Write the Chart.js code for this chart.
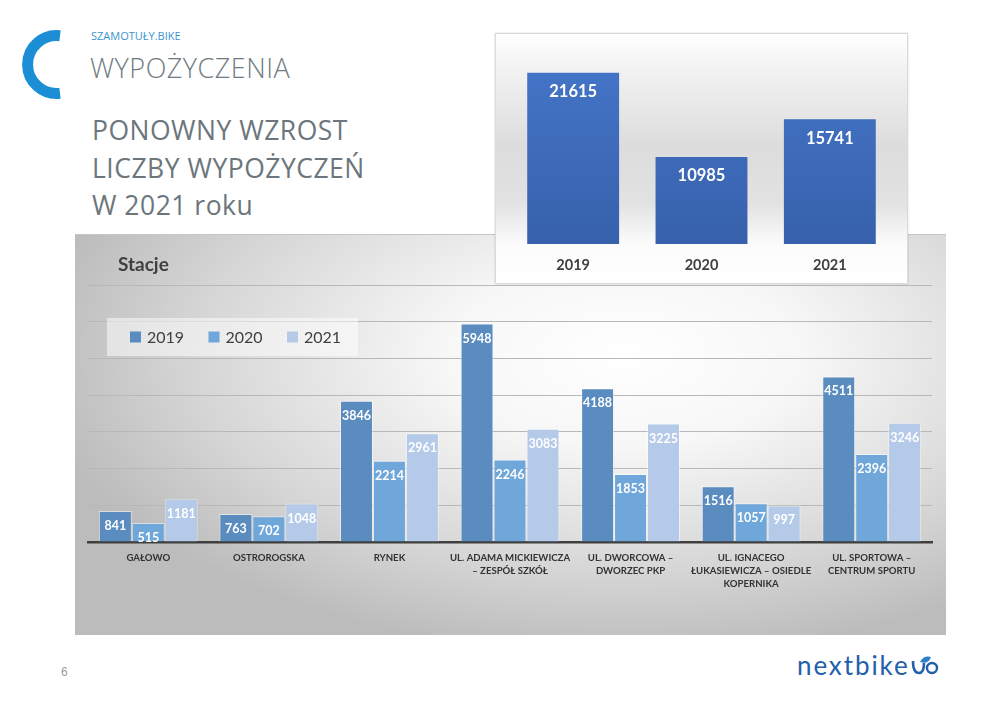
<!DOCTYPE html>
<html lang="pl">
<head>
<meta charset="utf-8">
<title>Wypożyczenia</title>
<script src="https://cdn.jsdelivr.net/npm/chart.js@4/dist/chart.umd.min.js"></script>
<style>
  body { margin: 0; background: #fff; font-family: 'Open Sans', sans-serif; }
  #page { position: relative; width: 995px; height: 707px; overflow: hidden; }
  .txt { position: absolute; white-space: nowrap; }
  #brand { left: 91px; top: 29px; font-size: 11px; line-height: 14px; color: #3b93d0; }
  #section { left: 90px; top: 52px; font-size: 27px; line-height: 32px; color: #707b81; font-weight: 300; letter-spacing: 0.5px; }
  #headline { left: 92px; top: 112px; font-size: 26.5px; line-height: 37.5px; color: #6c767c; letter-spacing: 0.5px; }
  #pagenr { left: 61px; top: 664px; font-size: 12px; line-height: 16px; color: #9a9a9a; font-family: 'Liberation Sans Narrow', 'Liberation Sans', sans-serif; }
  #logo { left: 797px; top: 649px; font-size: 26px; line-height: 32px; color: #2260aa; font-family: 'Lato', sans-serif; letter-spacing: 1.9px; }

  #stations {
    position: absolute; left: 75px; top: 234px; width: 871px; height: 401px;
    background: radial-gradient(ellipse 68% 75% at 63% 30%, #ffffff 0%, #f7f7f7 30%, #d6d6d6 72%, #bcbcbc 100%);
    border-top: 1px solid #c6c6c6; box-sizing: border-box;
  }
  #stationsTitle { left: 118px; top: 251px; font-family: 'Lato', sans-serif; font-weight: bold; font-size: 19px; line-height: 26px; color: #404040; }

  #yearsBox {
    position: absolute; left: 495px; top: 33px; width: 413px; height: 251px;
    background: linear-gradient(to bottom, #ffffff 0%, #f4f4f4 12%, #dcdcdc 45%, #e2e2e2 68%, #fbfbfb 84%, #ffffff 100%);
    border: 1px solid #dadada; box-sizing: border-box; box-shadow: 0 0 2px rgba(0,0,0,0.15);
  }
  canvas { position: absolute; left: 0; top: 0; }
</style>
</head>
<body>
<div id="page">
  <svg width="100" height="110" style="position:absolute;left:0;top:0">
    <path d="M 60 35.7 A 29 29 0 1 0 60 93.3" fill="none" stroke="#1b8ed6" stroke-width="11"/>
  </svg>
  <div class="txt" id="brand">SZAMOTUŁY.BIKE</div>
  <div class="txt" id="section">WYPOŻYCZENIA</div>
  <div class="txt" id="headline">PONOWNY WZROST<br>LICZBY WYPOŻYCZEŃ<br>W 2021 roku</div>

  <div id="stations"><canvas id="stationsChart" width="871" height="401"></canvas></div>
  <div class="txt" id="stationsTitle">Stacje</div>

  <div id="yearsBox"><canvas id="yearsChart" width="411" height="249"></canvas></div>

  <div class="txt" id="pagenr">6</div>
  <div class="txt" id="logo">nextbike</div>
  <svg width="30" height="24" style="position:absolute;left:910px;top:654px">
    <path d="M 3 7 Q 3 19 9 19 Q 14 19 14 9" fill="none" stroke="#2260aa" stroke-width="2.6"/>
    <path d="M 10 8 Q 14 1 21 3 Q 18 11 10 8 Z" fill="#2c7fc9"/>
    <circle cx="22" cy="14" r="5" fill="none" stroke="#2260aa" stroke-width="2.4"/>
  </svg>
</div>

<script>
// dane: stacje
const stations = [
  'GAŁOWO',
  'OSTROROGSKA',
  'RYNEK',
  ['UL. ADAMA MICKIEWICZA', '– ZESPÓŁ SZKÓŁ'],
  ['UL. DWORCOWA –', 'DWORZEC PKP'],
  ['UL. IGNACEGO', 'ŁUKASIEWICZA – OSIEDLE', 'KOPERNIKA'],
  ['UL. SPORTOWA –', 'CENTRUM SPORTU']
];
const rentals2019 = [841, 763, 3846, 5948, 4188, 1516, 4511];
const rentals2020 = [515, 702, 2214, 2246, 1853, 1057, 2396];
const rentals2021 = [1181, 1048, 2961, 3083, 3225, 997, 3246];
const stationTicks = [0, 1000, 2000, 3000, 4000, 5000, 6000, 7000];

// dane: suma wypożyczeń w latach
const years = ['2019', '2020', '2021'];
const totals = [21615, 10985, 15741];

// etykiety wartości wewnątrz słupków
const barLabels = {
  id: 'barLabels',
  afterDatasetsDraw(chart, args, opts) {
    const ctx = chart.ctx;
    ctx.save();
    ctx.font = opts.font;
    ctx.fillStyle = opts.color;
    ctx.textAlign = 'center';
    ctx.textBaseline = 'middle';
    chart.data.datasets.forEach((ds, i) => {
      chart.getDatasetMeta(i).data.forEach((bar, j) => {
        ctx.fillText(ds.data[j], bar.x, bar.y + opts.offset);
      });
    });
    ctx.restore();
  }
};

// legenda w ramce na wykresie
const boxLegend = {
  id: 'boxLegend',
  beforeDatasetsDraw(chart, args, opts) {
    const ctx = chart.ctx;
    ctx.save();
    ctx.fillStyle = 'rgba(255,255,255,0.5)';
    ctx.fillRect(opts.x, opts.y, opts.w, opts.h);
    ctx.font = opts.font;
    ctx.textBaseline = 'middle';
    const cy = opts.y + opts.h / 2;
    chart.data.datasets.forEach((ds, i) => {
      const x = opts.x + 23 + i * 78.5;
      ctx.fillStyle = ds.backgroundColor;
      ctx.fillRect(x, cy - 5.5, 11, 11);
      ctx.fillStyle = '#404040';
      ctx.fillText(ds.label, x + 17, cy + 0.5);
    });
    ctx.restore();
  }
};

new Chart(document.getElementById('stationsChart'), {
  type: 'bar',
  data: {
    labels: stations,
    datasets: [
      { label: '2019', data: rentals2019, backgroundColor: '#5b8cbf' },
      { label: '2020', data: rentals2020, backgroundColor: '#6fa7da' },
      { label: '2021', data: rentals2021, backgroundColor: '#b4cae8' }
    ]
  },
  options: {
    responsive: false,
    animation: false,
    layout: { padding: { left: 13, right: 14, top: 50, bottom: 0 } },
    datasets: {
      bar: { categoryPercentage: 0.82, barPercentage: 1, borderWidth: 1, borderColor: 'rgba(255,255,255,0.5)' }
    },
    scales: {
      x: {
        grid: { display: false, drawTicks: false },
        border: { display: true, color: '#3f3f3f', width: 2.5 },
        ticks: {
          color: '#333333', padding: 9, maxRotation: 0, autoSkip: false,
          font: { family: 'Lato', weight: 'bold', size: 9.6, lineHeight: '13px' }
        },
        afterFit(scale) { scale.height = 94; }
      },
      y: {
        min: 0, max: 7000,
        afterBuildTicks(scale) { scale.ticks = stationTicks.map(v => ({ value: v })); },
        grid: {
          drawTicks: false,
          color: (c) => c.tick && c.tick.value === 0 ? 'rgba(0,0,0,0)' : '#b8b8b8'
        },
        border: { display: false },
        ticks: { display: false },
        afterFit(scale) { scale.width = 0; }
      }
    },
    plugins: {
      legend: { display: false },
      tooltip: { enabled: false },
      barLabels: { font: 'bold 12.5px Lato', color: '#ffffff', offset: 15 },
      boxLegend: { x: 32, y: 83, w: 251, h: 38, font: '16px Lato' }
    }
  },
  plugins: [boxLegend, barLabels]
});

// gradient słupków na małym wykresie
function yearGradient(c) {
  const area = c.chart.chartArea;
  if (!area) return '#4472c4';
  const g = c.chart.ctx.createLinearGradient(0, area.top, 0, area.bottom);
  g.addColorStop(0, '#4677ca');
  g.addColorStop(1, '#3660ab');
  return g;
}

new Chart(document.getElementById('yearsChart'), {
  type: 'bar',
  data: {
    labels: years,
    datasets: [{ label: 'Wypożyczenia', data: totals, backgroundColor: yearGradient }]
  },
  options: {
    responsive: false,
    animation: false,
    layout: { padding: { left: 13, right: 13, top: 12, bottom: 0 } },
    datasets: { bar: { categoryPercentage: 0.716, barPercentage: 1 } },
    scales: {
      x: {
        grid: { display: false, drawTicks: false },
        border: { display: false },
        ticks: { color: '#404040', padding: 12, font: { family: 'Lato', weight: 'bold', size: 14.5, lineHeight: '18px' } },
        afterFit(scale) { scale.height = 39; }
      },
      y: { display: false, min: 0, max: 25000 }
    },
    plugins: {
      legend: { display: false },
      tooltip: { enabled: false },
      barLabels: { font: 'bold 16.5px Lato', color: '#ffffff', offset: 19 }
    }
  },
  plugins: [barLabels]
});
</script>
</body>
</html>
